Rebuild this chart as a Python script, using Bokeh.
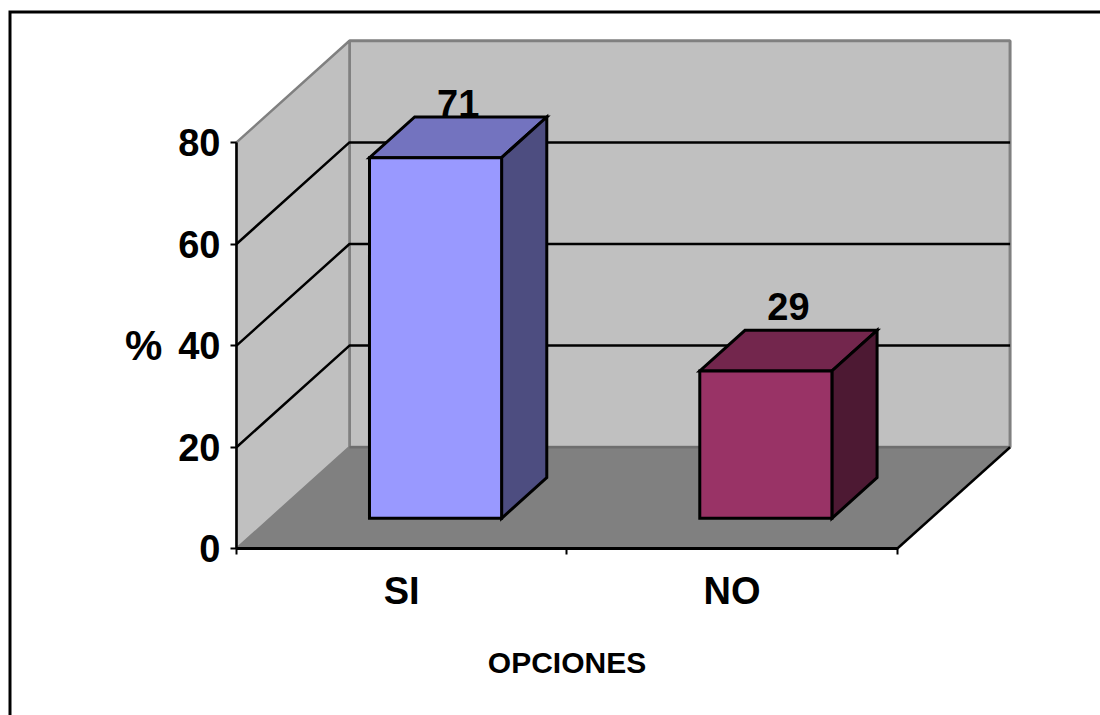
from bokeh.core.properties import value
from bokeh.embed import file_html
from bokeh.models import FixedTicker, Range1d
from bokeh.plotting import figure
from bokeh.resources import INLINE

categories = ["SI", "NO"]
percentages = [71, 29]
tick_values = [0, 20, 40, 60, 80]
face_colors = ["#9999FF", "#993366"]
top_colors = ["#7373BF", "#73264D"]
side_colors = ["#4D4D80", "#4D1933"]
label_pixel_drop = [0, -10]

FONT = "Liberation Sans"
VALUE_MAX = 80
DEPTH_X = 0.342  # horizontal shift of the back plane, in category units
DEPTH_Y = 20.0   # vertical shift of the back plane, in percentage units
BAR_HALF = 0.2
BAR_NEAR, BAR_FAR = 0.3, 0.7

# Pixel scale of the plot area
ORIGIN_X, ORIGIN_Y = 236.0, 548.3
PX_PER_CATEGORY, PX_PER_VALUE = 330.3, 5.08


def project(x, y, z):
    """Oblique projection of a chart point; z runs 0 (front) to 1 (back)."""
    return x + z * DEPTH_X, y + z * DEPTH_Y


def polygon(points):
    xy = [project(*pt) for pt in points]
    return [q[0] for q in xy], [q[1] for q in xy]


def page_x(px):
    return (px - ORIGIN_X) / PX_PER_CATEGORY


def page_y(py):
    return (ORIGIN_Y - py) / PX_PER_VALUE


n = len(categories)
p = figure(
    width=1100, height=715, output_backend="svg", toolbar_location=None,
    x_range=Range1d(page_x(0), page_x(1100)), y_range=Range1d(page_y(715), page_y(0)),
    min_border=0, outline_line_color=None, background_fill_color="white",
    border_fill_color="white",
)
p.grid.visible = False

# Chart border: only the top and left edges fall inside the page
p.line([page_x(9.5), page_x(9.5), page_x(1100)], [page_y(715), page_y(11.5), page_y(11.5)],
       line_color="black", line_width=3, line_join="miter")

# Walls and floor
wall_x, wall_y = polygon([(0, 0, 1), (n, 0, 1), (n, VALUE_MAX, 1), (0, VALUE_MAX, 1)])
p.patch(wall_x, wall_y, fill_color="#C0C0C0", line_color="#808080", line_width=3)
side_x, side_y = polygon([(0, 0, 0), (0, 0, 1), (0, VALUE_MAX, 1), (0, VALUE_MAX, 0)])
p.patch(side_x, side_y, fill_color="#C0C0C0", line_color="#808080", line_width=2.5)
floor_x, floor_y = polygon([(0, 0, 0), (n, 0, 0), (n, 0, 1), (0, 0, 1)])
p.patch(floor_x, floor_y, fill_color="#808080", line_color=None)
edge_x, edge_y = polygon([(0, 0, 1), (n, 0, 1)])
p.line(edge_x, edge_y, line_color="#6E6E6E", line_width=2.5)
edge_x, edge_y = polygon([(n, 0, 0), (n, 0, 1)])
p.line(edge_x, edge_y, line_color="black", line_width=2.5)

# Gridlines run across the side wall and then along the back wall
for v in tick_values[1:-1]:
    gx, gy = polygon([(0, v, 0), (0, v, 1), (n, v, 1)])
    p.line(gx, gy, line_color="black", line_width=2.5)

# Value labels sit behind the boxes
label_x = [project(i + 0.5, 0, 0.5)[0] for i in range(n)]
label_y = [project(0, v, BAR_FAR)[1] for v in percentages]
p.text(
    x=label_x, y=label_y, text=[str(v) for v in percentages],
    y_offset=label_pixel_drop,
    text_font=value(FONT), text_font_style="bold", text_font_size="38px",
    text_color="black", text_align="center", text_baseline="bottom",
)

# Boxes
for i, v in enumerate(percentages):
    x0, x1 = i + 0.5 - BAR_HALF, i + 0.5 + BAR_HALF
    top = [(x0, v, BAR_NEAR), (x1, v, BAR_NEAR), (x1, v, BAR_FAR), (x0, v, BAR_FAR)]
    side = [(x1, 0, BAR_NEAR), (x1, 0, BAR_FAR), (x1, v, BAR_FAR), (x1, v, BAR_NEAR)]
    front = [(x0, 0, BAR_NEAR), (x1, 0, BAR_NEAR), (x1, v, BAR_NEAR), (x0, v, BAR_NEAR)]
    for pts, color in ((top, top_colors[i]), (side, side_colors[i]), (front, face_colors[i])):
        fx, fy = polygon(pts)
        p.patch(fx, fy, fill_color=color, line_color="black", line_width=3, line_join="miter")

# Axes pinned to the front plane
xa = p.xaxis[0]
xa.fixed_location = 0
xa.bounds = (0, n)
xa.ticker = FixedTicker(ticks=[i + 0.5 for i in range(n)], minor_ticks=list(range(n + 1)))
xa.major_label_overrides = {i + 0.5: c for i, c in enumerate(categories)}
xa.major_tick_out = 0
xa.major_tick_in = 0
xa.minor_tick_out = 6
xa.minor_tick_in = 0
xa.minor_tick_line_color = "black"
xa.minor_tick_line_width = 2
xa.axis_line_color = "black"
xa.axis_line_width = 3
xa.major_label_text_font = FONT
xa.major_label_text_font_style = "bold"
xa.major_label_text_font_size = "38px"
xa.major_label_text_color = "black"
xa.major_label_standoff = 15
xa.axis_label = "OPCIONES"
xa.axis_label_text_font = FONT
xa.axis_label_text_font_style = "bold"
xa.axis_label_text_font_size = "30px"
xa.axis_label_text_color = "black"
xa.axis_label_standoff = 31

ya = p.yaxis[0]
ya.fixed_location = 0
ya.bounds = (0, VALUE_MAX)
ya.ticker = FixedTicker(ticks=tick_values, minor_ticks=[])
ya.major_tick_out = 6
ya.major_tick_in = 0
ya.major_tick_line_color = "black"
ya.major_tick_line_width = 2
ya.axis_line_color = "black"
ya.axis_line_width = 2.5
ya.major_label_orientation = "horizontal"
ya.major_label_text_font = FONT
ya.major_label_text_font_style = "bold"
ya.major_label_text_font_size = "38px"
ya.major_label_text_color = "black"
ya.major_label_standoff = 10
ya.axis_label = "%"
ya.axis_label_orientation = "horizontal"
ya.axis_label_text_font = FONT
ya.axis_label_text_font_style = "bold"
ya.axis_label_text_font_size = "42px"
ya.axis_label_text_color = "black"
ya.axis_label_standoff = 13

open("out.html", "w").write(file_html(p, INLINE))
